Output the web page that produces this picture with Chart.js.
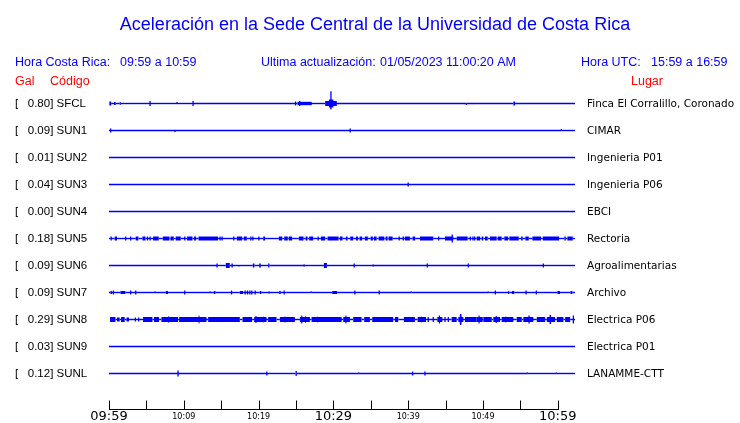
<!DOCTYPE html>
<html>
<head>
<meta charset="utf-8">
<script src="https://cdn.jsdelivr.net/npm/chart.js@4/dist/chart.umd.min.js"></script>
<style>
  html, body { margin:0; padding:0; background:#fff; overflow:hidden; }
  canvas { display:block; }
</style>
</head>
<body>
<canvas id="c" width="740" height="423"></canvas>
<script>
// stations, top to bottom
const CODES  = ['SFCL','SUN1','SUN2','SUN3','SUN4','SUN5','SUN6','SUN7','SUN8','SUN9','SUNL'];
const GAL    = [0.80, 0.09, 0.01, 0.04, 0.00, 0.18, 0.09, 0.09, 0.29, 0.03, 0.12];
const PLACES = ['Finca El Corralillo, Coronado','CIMAR','Ingenieria P01','Ingenieria P06','EBCI',
                'Rectoria','Agroalimentarias','Archivo','Electrica P06','Electrica P01','LANAMME-CTT'];

// time axis, minutes after 09:59
const TICK_MIN    = [0,5,10,15,20,25,30,35,40,45,50,55,60];
const TICK_LABELS = ['09:59','','10:09','','10:19','','10:29','','10:39','','10:49','','10:59'];
const T_END = 62.3;   // data runs a bit past 10:59

// noise bursts: [start min, end min, half height]
// single spikes: [min, up, down]
const SFCL_BURSTS = [[0.05,0.3,2],[0.67,0.9,1.5],[1.43,1.57,1.5],[25.2,27.1,1.7],[28.9,30.45,2.5],[29.4,30.0,4],[54.06,54.29,2]];
const SFCL_SPIKES = [[5.49,2.5,2.5],[9.1,1.5,0],[11.24,2.5,2.5],[24.94,2,2],[25.5,2.5,2.5],[29.67,12.3,6],[47.77,0,1.5]];

const SUN1_BURSTS = [];
const SUN1_SPIKES = [[0.23,2,2],[8.83,0,1.5],[32.25,2,2],[60.48,1.5,0]];

const SUN2_BURSTS = [];
const SUN2_SPIKES = [];

const SUN3_BURSTS = [];
const SUN3_SPIKES = [[40.0,2,2]];

const SUN4_BURSTS = [];
const SUN4_SPIKES = [];

const SUN5_BURSTS = [[0.76,1.07,2],[3.57,3.93,2],[4.47,4.87,2],[5.89,6.65,2],[7.19,8.08,2],[8.22,8.66,2],[8.92,9.59,2],
  [10.44,11.16,2],[11.37,11.64,2],[11.96,14.58,2],[17.09,17.80,2],[18.02,18.42,2],[20.61,20.87,2],[22.71,23.15,2],
  [23.42,23.91,2],[24.04,24.49,2],[25.38,26.01,2],[26.28,26.55,2],[26.76,27.30,2],[28.33,28.90,2],[29.22,30.69,2],
  [30.87,31.23,2],[31.67,31.90,2],[32.25,32.65,2],[33.01,33.28,2],[33.50,33.85,2],[34.21,34.61,2],[34.98,35.28,2],
  [35.42,35.78,2],[36.05,36.80,2],[36.98,37.25,2],[37.38,37.92,2],[39.56,40.23,2],[40.59,40.94,2],[41.57,43.35,2],
  [44.92,46.03,2],[46.48,47.95,2],[49.16,49.60,2],[49.83,50.04,2],[50.27,50.63,2],[50.94,51.83,2],[51.97,52.50,2],
  [52.85,53.35,2],[53.52,54.78,2],[55.09,55.31,2],[55.66,56.12,2],[56.60,57.76,2],[57.99,60.17,2],[60.88,61.07,2],
  [61.28,62.00,2]];
const SUN5_SPIKES = [[0.29,2,2],[2.23,2,2],[2.90,2,2],[5.14,2,2],[5.49,2,2],[10.13,2,2],[14.85,2,2],[15.12,2,2],
  [16.68,2,2],[18.96,2,2],[19.23,2,2],[20.03,2,2],[27.96,2,2],[38.80,2,2],[39.34,2,2],[44.07,2,2],[45.89,4,4],
  [48.30,2,2],[48.66,2,2],[48.89,2,2]];

const SUN6_BURSTS = [[15.62,16.15,2.5],[19.23,19.45,2],[20.07,20.30,2],[21.27,21.46,2],[28.73,29.13,2.5]];
const SUN6_SPIKES = [[14.45,2,2],[16.46,2,2],[17.39,0,1],[26.09,1,1],[32.78,2,2],[35.32,1,1],[42.55,2,2],[48.04,2,2],[58.07,2,2]];

const SUN7_BURSTS = [[0.2,0.4,1.5],[1.53,2.19,1.5],[7.59,7.89,1.5],[14.01,14.24,1.5],[17.49,17.93,1.5],[20.16,20.39,1.5],
  [22.75,22.97,1.5],[29.84,30.51,1.5],[53.35,53.52,1.5],[53.88,54.19,1.5],[59.94,60.31,1.5],[61.69,61.95,1.5]];
const SUN7_SPIKES = [[0.59,2,2],[2.90,2,2],[3.57,2,2],[6.15,1,0],[10.13,2,2],[13.51,1,0],[16.38,2,2],[18.20,2,2],
  [18.52,2,2],[18.83,2,2],[19.09,2,2],[19.54,2,2],[21.41,1,1],[23.42,2,2],[27.03,1,0],[32.87,2,2],[36.13,2,2],
  [40.41,1,0],[50.71,1,0],[51.65,2,2],[55.76,2,2],[57.13,2,2]];

const SUN8_BURSTS = [[0.13,0.86,2.5],[1.07,1.43,2],[1.61,2.10,2.5],[2.33,2.68,2],[4.55,5.81,2.5],[6.02,6.69,2.5],
  [7.01,9.23,2.5],[9.37,13.03,2.5],[13.25,17.49,2.5],[17.85,19.13,2.5],[19.40,21.06,2.5],[21.27,22.40,2.5],
  [22.84,24.85,2.5],[25.52,26.86,2.5],[27.08,31.10,2.5],[31.31,32.21,2.5],[32.65,33.77,2.5],[34.12,34.88,2.5],
  [35.19,38.00,2.5],[38.23,38.67,2.5],[39.43,40.90,2.5],[41.26,42.38,2.5],[43.89,44.56,2.5],[45.81,46.48,2.5],
  [46.70,47.37,2.5],[47.59,49.16,2.5],[49.16,49.96,2.5],[50.04,51.17,2.5],[51.38,52.28,2.5],[52.50,54.06,2.5],
  [54.51,55.18,2.5],[55.39,56.73,2.5],[57.19,58.30,2.5],[58.53,59.64,2.5],[59.87,60.75,2.5],[60.98,61.65,2.5],
  // short louder bursts inside the band
  [7.9,8.05,3],[11.98,12.1,4],[19.58,19.72,3.5],[20.56,20.66,3],[23.48,23.58,3],[24.38,24.46,3],[25.7,25.85,4],
  [26.2,26.3,3.5],[27.8,27.88,3],[31.6,31.75,4],[41.7,41.8,3],[44.1,44.25,4],[46.9,47.1,4.5],[49.4,49.55,4],
  [51.7,51.85,3.5],[53.0,53.1,3],[58.9,59.1,4.5]];
const SUN8_SPIKES = [[3.53,2,2],[3.97,2,2],[42.68,2.5,2.5],[43.35,2.5,2.5],[44.92,2.5,2.5],[45.36,2.5,2.5],
  [47.02,5.5,5.5],[56.16,4,4],[62.08,4,4]];

const SUN9_BURSTS = [];
const SUN9_SPIKES = [];

const SUNL_BURSTS = [[24.94,25.11,2.5]];
const SUNL_SPIKES = [[9.23,3,3],[21.10,2,2],[33.37,1,0],[40.59,2,2],[42.24,2,2],[55.93,1,0],[59.81,1,0]];

const BURSTS = [SFCL_BURSTS,SUN1_BURSTS,SUN2_BURSTS,SUN3_BURSTS,SUN4_BURSTS,SUN5_BURSTS,SUN6_BURSTS,SUN7_BURSTS,SUN8_BURSTS,SUN9_BURSTS,SUNL_BURSTS];
const SPIKES = [SFCL_SPIKES,SUN1_SPIKES,SUN2_SPIKES,SUN3_SPIKES,SUN4_SPIKES,SUN5_SPIKES,SUN6_SPIKES,SUN7_SPIKES,SUN8_SPIKES,SUN9_SPIKES,SUNL_SPIKES];

const BLUE = '#0000ff';
const RED = '#ff0000';
const ROW_PX = 27;     // px between traces
const LINE_W = 1.4;
const SPIKE_W = 1.3;

// one path per trace; w[i] is the stroke width from point i to i+1
function trace(row, bursts, spikes){
  const base = -row;
  const ev = [
    ...bursts.map(b => ({t: b[0], t1: b[1], h: b[2]})),
    ...spikes.map(s => ({t: s[0], up: s[1], down: s[2]}))
  ].sort((a, b) => a.t - b.t);
  const pts = [{x: 0, y: base}], w = [];
  const add = (x, y, width) => { w.push(width); pts.push({x, y}); };
  for (const e of ev){
    add(e.t, base, LINE_W);
    if (e.t1 !== undefined){
      add(e.t1, base, e.h * 2);
    } else {
      add(e.t, base + e.up / ROW_PX, SPIKE_W);
      add(e.t, base - e.down / ROW_PX, SPIKE_W);
      add(e.t, base, SPIKE_W);
    }
  }
  add(T_END, base, LINE_W);
  return {pts, w};
}

const datasets = CODES.map((code, i) => {
  const {pts, w} = trace(i, BURSTS[i], SPIKES[i]);
  return {
    label: code,
    data: pts,
    borderColor: BLUE,
    borderWidth: LINE_W,
    borderCapStyle: 'butt',
    pointRadius: 0,
    tension: 0,
    segment: { borderWidth: ctx => w[ctx.p0DataIndex] }
  };
});

const texts = {
  id: 'texts',
  afterDraw(chart){
    const ctx = chart.ctx, xs = chart.scales.x, ys = chart.scales.y;
    ctx.save();

    // time axis with ticks pointing up
    const axY = chart.chartArea.bottom + 0.5;
    ctx.strokeStyle = '#000'; ctx.lineWidth = 1;
    ctx.beginPath();
    ctx.moveTo(Math.round(xs.getPixelForValue(TICK_MIN[0])), axY);
    ctx.lineTo(Math.round(xs.getPixelForValue(TICK_MIN[TICK_MIN.length-1])) + 1, axY);
    for (const v of TICK_MIN){
      const px = Math.round(xs.getPixelForValue(v)) + 0.5;
      ctx.moveTo(px, axY); ctx.lineTo(px, axY - 9);
    }
    ctx.stroke();

    ctx.textBaseline = 'alphabetic';
    ctx.fillStyle = BLUE;
    ctx.font = '18px "Liberation Sans", Arial, sans-serif';
    ctx.textAlign = 'center';
    ctx.fillText('Aceleración en la Sede Central de la Universidad de Costa Rica', 375, 30);

    ctx.textAlign = 'left';
    ctx.font = '12.5px "Liberation Sans", Arial, sans-serif';
    ctx.fillText('Hora Costa Rica:', 15, 66);
    ctx.fillText('09:59 a 10:59', 120, 66);
    ctx.fillText('Ultima actualización:', 261, 66);
    ctx.fillText('01/05/2023 11:00:20 AM', 380, 66);
    ctx.fillText('Hora UTC:', 581, 66);
    ctx.fillText('15:59 a 16:59', 651, 66);

    ctx.fillStyle = RED;
    ctx.fillText('Gal', 15, 84.5);
    ctx.fillText('Código', 50, 84.5);
    ctx.fillText('Lugar', 631, 84.5);

    ctx.fillStyle = '#000';
    ctx.textBaseline = 'middle';
    CODES.forEach((code, i) => {
      const y = ys.getPixelForValue(-i) + 0.5;
      ctx.font = '11.5px "Liberation Sans", Arial, sans-serif';
      ctx.fillText('[   ' + GAL[i].toFixed(2) + '] ' + code, 15, y);
      ctx.font = '10.5px "DejaVu Sans", sans-serif';
      ctx.fillText(PLACES[i], 587, y);
    });
    ctx.restore();
  }
};

new Chart(document.getElementById('c'), {
  type: 'line',
  data: { datasets },
  options: {
    responsive: false,
    animation: false,
    devicePixelRatio: 1,
    layout: { autoPadding: false, padding: { left: 109, right: 165, top: 90, bottom: 0 } },
    plugins: { legend: { display: false }, tooltip: { enabled: false } },
    scales: {
      x: {
        type: 'linear', min: 0, max: T_END,
        afterBuildTicks: s => { s.ticks = TICK_MIN.map(v => ({value: v})); },
        afterFit: s => { s.height = 14; },
        grid: { display: false, drawTicks: false },
        border: { display: false },
        ticks: {
          autoSkip: false, maxRotation: 0, minRotation: 0, padding: 0, color: '#000',
          callback: (v, i) => TICK_LABELS[i],
          font: c => (c.index % 6 === 0)
            ? { family: 'DejaVu Sans', size: 13, lineHeight: 1.2 }
            : { family: 'DejaVu Sans', size: 8, lineHeight: 1.9 }
        }
      },
      y: {
        type: 'linear', display: false,
        min: -10 - 35.5 / ROW_PX, max: 13.5 / ROW_PX
      }
    }
  },
  plugins: [texts]
});
</script>
</body>
</html>
